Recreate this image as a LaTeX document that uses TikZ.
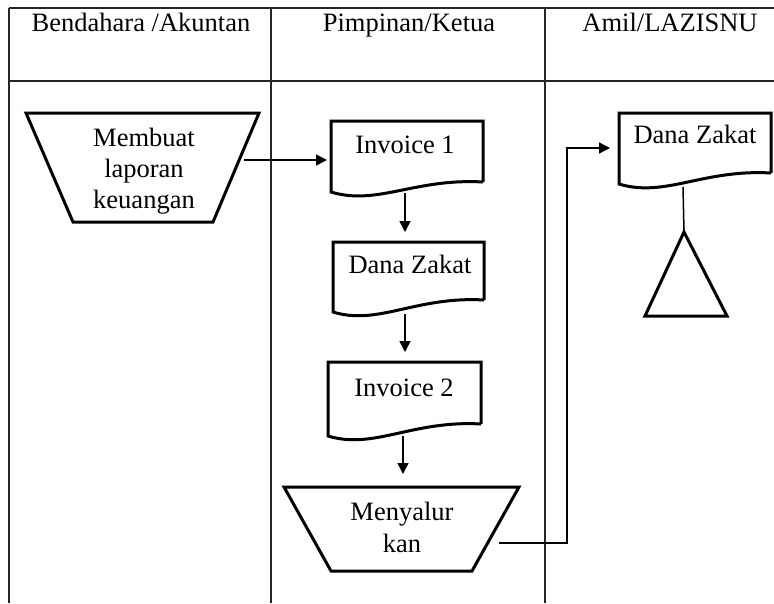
\documentclass[tikz,border=0pt]{standalone}
\usepackage{fontspec}
\setmainfont{Liberation Serif}
\usetikzlibrary{arrows.meta}
\begin{document}
\begin{tikzpicture}[x=1pt,y=-1pt,
  grid/.style={line width=1.6pt,black!85},
  shapeline/.style={line width=3pt,black,line join=miter},
  conn/.style={line width=1.5pt,black},
  arr/.style={conn,-{Triangle[length=11pt,width=11pt]}},
  lbl/.style={font=\fontsize{26.5}{31}\selectfont,anchor=base,inner sep=0pt},
  hdr/.style={font=\fontsize{26.5}{31}\selectfont,anchor=base,inner sep=0pt}]
\useasboundingbox (0,0) rectangle (774,603);
% table
\draw[grid] (9,8) -- (774,8);
\draw[grid] (9,81) -- (774,81);
\draw[grid] (9,8) -- (9,603);
\draw[grid] (271,8) -- (271,603);
\draw[grid] (545,8) -- (545,603);
\node[hdr] (h1) at (141,31) {Bendahara /Akuntan};
\node[hdr] (h2) at (409,31) {Pimpinan/Ketua};
\node[hdr] (h3) at (670,31) {Amil/LAZISNU};
% trapezoid 1
\draw[shapeline] (26,113) -- (259,113) -- (213,222) -- (73,222) -- cycle;
\node[lbl] (t1a) at (144,146) {Membuat};
\node[lbl] (t1b) at (144,177) {laporan};
\node[lbl] (t1c) at (144,208) {keuangan};
\coordinate (t1out) at (244,160);
% invoice 1
\draw[shapeline] (483,182) -- (483,121) -- (331,121) -- (331,192)
  .. controls (377,206) and (415,178) .. (483,182);
\node[lbl] (inv1) at (405,153) {Invoice 1};
\coordinate (inv1in) at (327,160);
\coordinate (inv1out) at (405,193);
% dana zakat middle
\draw[shapeline] (484,300) -- (484,242) -- (333,242) -- (333,312)
  .. controls (378,326) and (416,296) .. (484,300);
\node[lbl] (dz1) at (410,273) {Dana Zakat};
\coordinate (dz1in) at (405,232);
\coordinate (dz1out) at (405,314);
% invoice 2
\draw[shapeline] (481,424) -- (481,362) -- (328,362) -- (328,436)
  .. controls (374,450) and (412,420) .. (481,424);
\node[lbl] (inv2) at (404,396) {Invoice 2};
\coordinate (inv2in) at (405,352);
\coordinate (inv2out) at (403,436);
% trapezoid 2
\draw[shapeline] (284,487) -- (519,487) -- (472,571) -- (331,571) -- cycle;
\node[lbl] (t2a) at (402,520) {Menyalur};
\node[lbl] (t2b) at (402,552) {kan};
\coordinate (t2in) at (403,474);
\coordinate (t2out) at (499,543);
% dana zakat right
\draw[shapeline] (771,173) -- (771,113) -- (619,113) -- (619,184)
  .. controls (665,198) and (703,169) .. (771,173);
\node[lbl] (dz2) at (695,143) {Dana Zakat};
\coordinate (dz2in) at (610,148);
\coordinate (dz2out) at (683,187);
% triangle
\draw[shapeline] (684,232) -- (727,316) -- (645,316) -- cycle;
\coordinate (tri) at (684,232);
% connectors
\draw[arr] (t1out) -- (inv1in);
\draw[arr] (inv1out) -- (dz1in);
\draw[arr] (dz1out) -- (inv2in);
\draw[arr] (inv2out) -- (t2in);
\draw[arr] (t2out) -| (567,148) -- (dz2in);
\draw[conn] (dz2out) -- (tri);
\end{tikzpicture}
\end{document}
